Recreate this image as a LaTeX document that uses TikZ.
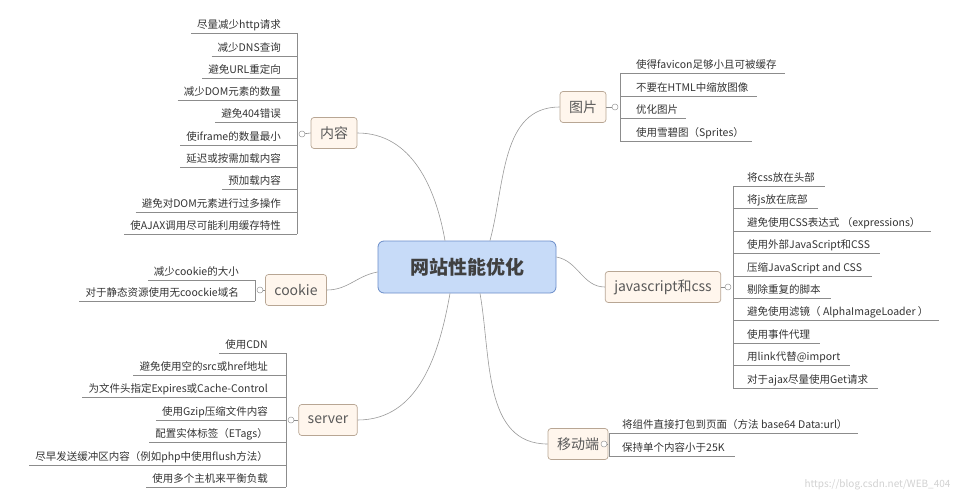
\documentclass[tikz,border=0pt]{standalone}
\usepackage{fontspec}
\setmainfont{Noto Sans CJK SC}
\definecolor{rootfill}{HTML}{C7DBF8}
\definecolor{rootdraw}{HTML}{6A8CC8}
\begin{document}
\begin{tikzpicture}[x=1pt,y=-1pt,
  ln/.style={draw=black!45,line width=0.6pt},
  leaf/.style={inner xsep=0pt,inner ysep=2.5pt,text height=8.5pt,text depth=2pt,font=\fontsize{10.5}{12}\selectfont,text=black!80},
  br/.style={draw=brown!40!gray!70,fill=orange!7,rounded corners=3pt,line width=0.7pt,minimum height=31pt,inner xsep=9pt,font=\fontsize{14}{16}\selectfont,text=black!65},
  knob/.style={circle,draw=black!40,fill=white,inner sep=0pt,minimum size=6pt,line width=0.5pt},
  cv/.style={draw=black!40,line width=0.6pt}]
\useasboundingbox (0,0) rectangle (958,500);
\node[draw=rootdraw,fill=rootfill,rounded corners=6pt,line width=0.8pt,minimum width=178pt,minimum height=52pt,font=\fontsize{19}{21}\selectfont\bfseries,text=black!75] (root) at (467,267) {网站性能优化};
\node[br] (nr) at (334,133) {内容};
\node[br] (ck) at (296,290) {cookie};
\node[br] (sv) at (328,420) {server};
\node[br] (tp) at (583,107) {图片};
\node[br] (js) at (663,287) {javascript和css};
\node[br] (yd) at (578,444) {移动端};
\draw[cv] ([xshift=-22pt]root.north) to[out=100,in=0] (nr.east);
\draw[cv] ([xshift=23pt]root.north) to[out=75,in=180] (tp.west);
\draw[cv] ([yshift=-5pt]root.west) to[out=190,in=0] (ck.east);
\draw[cv] ([xshift=-17pt]root.south) to[out=-100,in=0] (sv.east);
\draw[cv] ([yshift=10pt]root.east) to[out=-10,in=180] (js.west);
\draw[cv] ([xshift=13pt]root.south) to[out=-80,in=180] (yd.west);
% left: 内容
\node[knob] (k1) at (302,134) {};
\draw[ln] (k1) -- (nr.west);
\draw[ln] (297,33) -- (297,234);
\foreach \t/\u [count=\i] in {尽量减少http请求/33,减少DNS查询/56,避免URL重定向/78,减少DOM元素的数量/100,避免404错误/122,使iframe的数量最小/145,延迟或按需加载内容/167,预加载内容/189,避免对DOM元素进行过多操作/212,使AJAX调用尽可能利用缓存特性/234}{
  \node[leaf,anchor=south east] (a\i) at (281,\u) {\t};
  \draw[ln] ([xshift=-6pt]a\i.south west) -- (297,\u);
}
% cookie
\node[knob] (k2) at (260,290) {};
\draw[ln] (k2) -- (ck.west);
\draw[ln] (255,280) -- (255,301);
\foreach \t/\u [count=\i] in {减少cookie的大小/280,对于静态资源使用无coockie域名/301}{
  \node[leaf,anchor=south east] (b\i) at (239,\u) {\t};
  \draw[ln] ([xshift=-6pt]b\i.south west) -- (255,\u);
}
% server
\node[knob] (k3) at (291,420) {};
\draw[ln] (k3) -- (sv.west);
\draw[ln] (286,353) -- (286,487);
\foreach \t/\u [count=\i] in {使用CDN/353,避免使用空的src或href地址/375,为文件头指定Expires或Cache-Control/397,使用Gzip压缩文件内容/420,配置实体标签（ETags）/442,尽早发送缓冲区内容（例如php中使用flush方法）/465,使用多个主机来平衡负载/487}{
  \node[leaf,anchor=south east] (s\i) at (268,\u) {\t};
  \draw[ln] ([xshift=-6pt]s\i.south west) -- (286,\u);
}
% 图片
\node[knob] (k4) at (615,107) {};
\draw[ln] (tp.east) -- (k4);
\draw[ln] (620,73) -- (620,141);
\foreach \t/\u [count=\i] in {使得favicon足够小且可被缓存/73,不要在HTML中缩放图像/96,优化图片/118,使用雪碧图（Sprites）/141}{
  \node[leaf,anchor=south west] (p\i) at (636,\u) {\t};
  \draw[ln] (620,\u) -- ([xshift=8pt]p\i.south east);
}
% js
\node[knob] (k5) at (728,287) {};
\draw[ln] (js.east) -- (k5);
\draw[ln] (733,186) -- (733,388);
\foreach \t/\u [count=\i] in {将css放在头部/186,将js放在底部/208,避免使用CSS表达式 （expressions）/231,使用外部JavaScript和CSS/253,压缩JavaScript and CSS/276,剔除重复的脚本/298,避免使用滤镜（ AlphaImageLoader ）/320,使用事件代理/343,用link代替@import/365,对于ajax尽量使用Get请求/388}{
  \node[leaf,anchor=south west] (j\i) at (747,\u) {\t};
  \draw[ln] (733,\u) -- ([xshift=10pt]j\i.south east);
}
% 移动端
\node[knob] (k6) at (604,444) {};
\draw[ln] (yd.east) -- (k6);
\draw[ln] (609,433) -- (609,456);
\foreach \t/\u [count=\i] in {将组件直接打包到页面（方法 base64 Data:url）/433,保持单个内容小于25K/456}{
  \node[leaf,anchor=south west] (m\i) at (622,\u) {\t};
  \draw[ln] (609,\u) -- ([xshift=10pt]m\i.south east);
}
\node[font=\fontsize{10}{12}\selectfont,text=black!18,anchor=east] (wm) at (954,485) {https://blog.csdn.net/WEB\_404};
\end{tikzpicture}
\end{document}
